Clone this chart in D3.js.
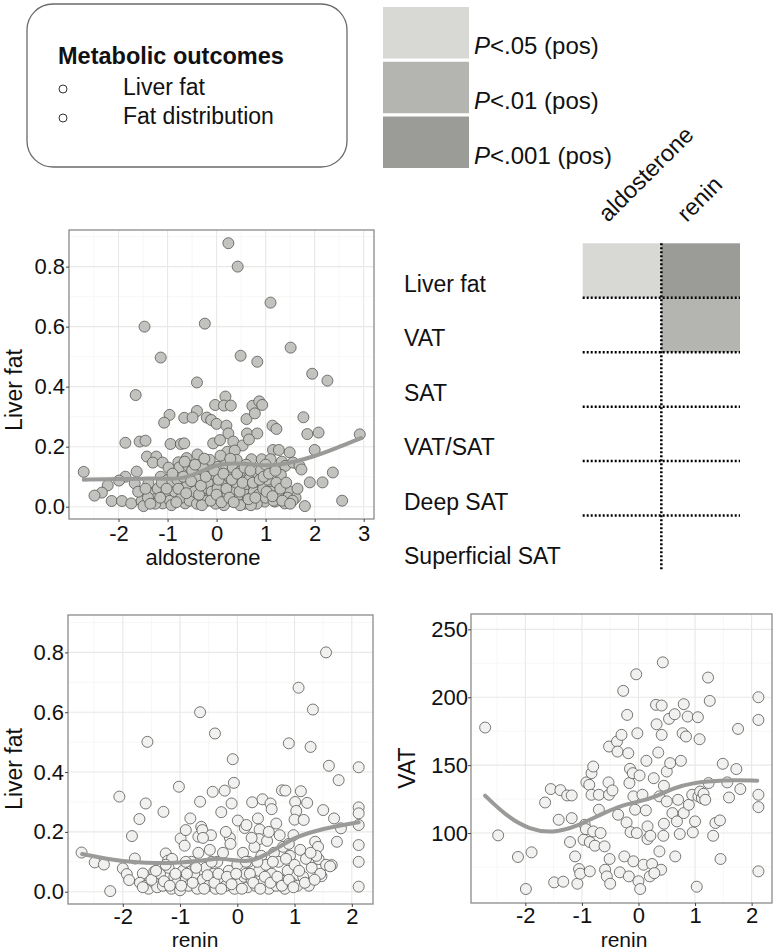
<!DOCTYPE html>
<html>
<head>
<meta charset="utf-8">
<script src="https://cdn.jsdelivr.net/npm/d3@7"></script>
<style>
  body { margin: 0; background: #fff; }
  svg { display: block; font-family: "Liberation Sans", Arial, sans-serif; }
  text { fill: #111; }
</style>
</head>
<body>
<svg width="776" height="952"></svg>
<script>
// ---- data ----
const outcomeRows = ["Liver fat", "VAT", "SAT", "VAT/SAT", "Deep SAT", "Superficial SAT"];
const hormoneCols = ["aldosterone", "renin"];
// 0 = ns, 1 = P<.05, 2 = P<.01, 3 = P<.001 (all positive)
const heatLevels = [
  [1, 3],
  [0, 2],
  [0, 0],
  [0, 0],
  [0, 0],
  [0, 0]
];
const pLabels = [".05 (pos)", ".01 (pos)", ".001 (pos)"];
const pColors = ["#d8d8d5", "#b4b4b0", "#9b9b98"];
const legendItems = ["Liver fat", "Fat distribution"];

// aldosterone vs liver fat
const aldoLiverPts = [
  [0.24,0.878],[0.43,0.80],[1.10,0.68],[-1.47,0.60],[-0.24,0.61],[1.51,0.53],[-1.14,0.497],[0.49,0.503],
  [0.83,0.483],[1.95,0.443],[2.26,0.42],[-0.40,0.414],[-1.65,0.372],[0.18,0.367],[-0.03,0.339],[0.15,0.337],
  [0.29,0.337],[0.73,0.336],[0.87,0.351],[0.93,0.339],[-0.40,0.319],[-0.96,0.306],[-0.66,0.296],[-0.49,0.297],
  [-1.07,0.28],[-0.20,0.297],[-0.11,0.289],[0.0,0.276],[0.61,0.292],[0.78,0.311],[0.20,0.27],[0.24,0.244],
  [1.14,0.27],[1.22,0.259],[1.77,0.298],[0.62,0.244],[0.83,0.244],[1.85,0.242],[2.08,0.247],[-1.86,0.213],
  [-1.57,0.217],[-1.45,0.22],[-0.94,0.209],[-0.73,0.209],[-0.66,0.211],[-0.07,0.211],[0.07,0.222],[0.34,0.217],
  [0.53,0.204],[0.66,0.224],[0.22,0.183],[0.37,0.187],[1.15,0.189],[1.27,0.189],[1.49,0.181],[2.0,0.189],
  [-1.42,0.167],[-1.23,0.167],[-1.30,0.147],[-1.10,0.147],[-0.39,0.174],[-0.61,0.162],[-0.78,0.148],[-0.76,0.131],
  [-0.58,0.136],[-0.35,0.131],[-0.14,0.156],[0.03,0.133],[0.41,0.156],[0.71,0.158],[0.92,0.158],[1.10,0.158],
  [1.33,0.15],[1.40,0.136],[1.56,0.147],[1.69,0.136],[1.73,0.124],[-2.71,0.116],[-1.63,0.117],[-1.14,0.10],
  [-1.0,0.089],[-1.86,0.10],[-1.99,0.087],[-2.22,0.071],[-2.34,0.047],[-2.49,0.037],[-2.14,0.019],[-1.93,0.019],
  [-1.74,0.011],[-1.67,0.078],[-1.53,0.019],[-1.49,0.002],[-1.32,0.042],[-1.22,0.028],[-1.39,0.078],[-1.10,0.011],
  [-0.95,0.078],[-0.88,0.028],[-0.69,0.067],[-0.64,0.011],[-0.54,0.10],[-0.47,0.033],[-0.34,0.10],[-0.24,0.061],
  [-0.15,0.028],[-0.03,0.078],[0.07,0.03],[0.17,0.017],[0.27,0.067],[0.39,0.10],[0.44,0.067],[0.49,0.022],
  [0.61,0.094],[0.64,0.067],[0.73,0.017],[0.80,0.106],[0.92,0.078],[0.98,0.017],[1.08,0.067],[1.19,0.017],
  [1.31,0.106],[1.36,0.039],[1.39,0.011],[1.49,0.05],[1.61,0.03],[1.80,0.002],[1.90,0.081],[2.16,0.081],
  [2.37,0.114],[2.56,0.02],[2.92,0.241],
  [-1.2,0.06],[-1.05,0.04],[-0.95,0.02],[-0.85,0.05],[-0.8,0.09],[-0.72,0.03],[-0.6,0.07],[-0.55,0.02],
  [-0.5,0.12],[-0.45,0.05],[-0.4,0.01],[-0.38,0.09],[-0.3,0.03],[-0.28,0.13],[-0.2,0.02],[-0.18,0.08],
  [-0.1,0.05],[-0.08,0.11],[-0.02,0.01],[0.02,0.06],[0.05,0.12],[0.1,0.03],[0.12,0.09],[0.18,0.14],
  [0.22,0.04],[0.25,0.1],[0.3,0.02],[0.33,0.13],[0.36,0.05],[0.4,0.08],[0.46,0.03],[0.5,0.12],
  [0.55,0.06],[0.58,0.01],[0.62,0.04],[0.66,0.09],[0.7,0.03],[0.76,0.05],[0.82,0.01],[0.86,0.04],
  [0.9,0.12],[0.95,0.06],[1.0,0.03],[1.04,0.09],[1.12,0.05],[1.16,0.02],[1.22,0.08],[1.26,0.04],
  [1.45,0.03],[1.55,0.02],[-1.4,0.03],[-1.25,0.01],[-0.98,0.13],[-0.65,0.15],[-0.25,0.16],[0.08,0.17],
  [0.28,0.16],[0.6,0.14],[1.0,0.14],[-0.92,0.005],[-0.3,0.005],[0.15,0.005],[0.48,0.005],[0.7,0.005],
  [-1.6,0.05],[-1.45,0.06],[-1.35,0.01],[-1.15,0.03],[-1.12,0.08],[-1.02,0.06],[-0.9,0.11],[-0.82,0.015],
  [-0.78,0.06],[-0.68,0.1],[-0.62,0.045],[-0.52,0.085],[-0.44,0.14],[-0.36,0.04],[-0.32,0.07],[-0.22,0.1],
  [-0.12,0.02],[-0.05,0.12],[0.0,0.04],[0.04,0.09],[0.1,0.015],[0.14,0.11],[0.2,0.06],[0.26,0.03],
  [0.31,0.09],[0.35,0.015],[0.42,0.11],[0.47,0.05],[0.53,0.08],[0.57,0.13],[0.65,0.025],[0.69,0.12],
  [0.74,0.08],[0.79,0.03],[0.88,0.09],[0.96,0.1],[1.02,0.05],[1.07,0.11],[1.14,0.035],[1.2,0.12],
  [1.3,0.06],[1.34,0.02],[1.42,0.08],[1.5,0.01],[1.65,0.06]
];
const aldoLiverFit = [[-2.71,0.090],[-2,0.092],[-1.5,0.094],[-1,0.093],[-0.75,0.092],[-0.4,0.11],[0,0.142],
  [0.4,0.146],[0.8,0.138],[1.2,0.137],[1.6,0.150],[2.0,0.168],[2.4,0.192],[2.95,0.229]];

// renin vs liver fat
const reninLiverPts = [
  [-2.72,0.131],[-2.49,0.098],[-2.33,0.091],[-2.22,0.002],[-2.06,0.318],[-2.0,0.078],[-1.93,0.059],[-1.84,0.186],
  [-1.79,0.111],[-1.89,0.039],[-1.71,0.243],[-1.65,0.061],[-1.60,0.295],[-1.57,0.501],[-1.45,0.067],[-1.29,0.267],
  [-1.25,0.128],[-1.21,0.104],[-1.14,0.11],[-1.02,0.351],[-0.99,0.178],[-0.92,0.154],[-0.90,0.206],[-0.82,0.245],
  [-0.68,0.184],[-0.65,0.6],[-0.65,0.301],[-0.63,0.217],[-0.61,0.206],[-0.46,0.189],[-0.43,0.334],[-0.39,0.529],
  [-0.28,0.266],[-0.22,0.338],[-0.13,0.18],[-0.10,0.295],[-0.08,0.443],[-0.06,0.364],[0.01,0.238],[0.13,0.213],
  [0.16,0.223],[0.26,0.299],[0.36,0.245],[0.44,0.309],[0.39,0.208],[0.38,0.176],[0.58,0.295],[0.60,0.276],
  [0.68,0.228],[0.74,0.189],[0.78,0.339],[0.84,0.338],[0.90,0.496],[0.98,0.189],[1.01,0.30],[1.03,0.27],
  [1.0,0.241],[1.07,0.682],[1.11,0.336],[1.16,0.24],[1.22,0.297],[1.28,0.484],[1.32,0.609],[1.36,0.167],
  [1.41,0.15],[1.42,0.109],[1.50,0.273],[1.47,0.052],[1.55,0.80],[1.60,0.421],[1.65,0.089],[1.69,0.245],
  [1.74,0.167],[1.77,0.373],[1.81,0.212],[2.12,0.416],[2.12,0.282],[2.12,0.262],[2.12,0.223],[2.12,0.156],
  [2.12,0.10],[2.12,0.017],
  [-1.7,0.03],[-1.6,0.02],[-1.55,0.01],[-1.45,0.03],[-1.4,0.015],[-1.35,0.06],[-1.3,0.02],[-1.2,0.08],
  [-1.15,0.01],[-1.1,0.05],[-1.05,0.03],[-1.0,0.005],[-0.95,0.07],[-0.9,0.04],[-0.85,0.02],[-0.8,0.1],
  [-0.75,0.06],[-0.7,0.01],[-0.68,0.13],[-0.6,0.04],[-0.55,0.08],[-0.5,0.02],[-0.48,0.14],[-0.42,0.06],
  [-0.38,0.01],[-0.35,0.1],[-0.3,0.035],[-0.25,0.13],[-0.2,0.02],[-0.15,0.07],[-0.12,0.16],[-0.08,0.04],
  [-0.05,0.01],[0.0,0.09],[0.05,0.03],[0.1,0.13],[0.12,0.05],[0.18,0.015],[0.2,0.1],[0.25,0.04],
  [0.3,0.15],[0.32,0.02],[0.38,0.07],[0.42,0.12],[0.45,0.03],[0.5,0.09],[0.52,0.17],[0.55,0.01],
  [0.6,0.06],[0.64,0.13],[0.68,0.02],[0.72,0.1],[0.75,0.04],[0.8,0.15],[0.83,0.01],[0.88,0.07],
  [0.92,0.12],[0.95,0.03],[1.0,0.09],[1.05,0.02],[1.1,0.14],[1.15,0.05],[1.2,0.11],[1.25,0.02],
  [1.3,0.08],[1.38,0.12],[1.45,0.06],[1.55,0.09],[1.62,0.085],[-0.6,0.18],[-0.2,0.2],[0.25,0.18],
  [0.55,0.2],[0.9,0.16],[-0.9,0.1],[-1.25,0.09],[0.15,0.06],[-0.45,0.1],
  [-1.65,0.015],[-1.5,0.04],[-1.42,0.07],[-1.28,0.035],[-1.18,0.02],[-1.08,0.06],[-0.98,0.02],[-0.88,0.06],
  [-0.78,0.03],[-0.72,0.08],[-0.58,0.01],[-0.52,0.055],[-0.4,0.03],[-0.33,0.06],[-0.28,0.01],[-0.18,0.05],
  [-0.1,0.025],[-0.02,0.06],[0.08,0.01],[0.15,0.1],[0.22,0.06],[0.28,0.03],[0.35,0.1],[0.4,0.01],
  [0.48,0.05],[0.58,0.03],[0.62,0.1],[0.7,0.05],[0.78,0.02],[0.85,0.11],[0.9,0.04],[0.98,0.015],
  [1.08,0.07],[1.18,0.03],[1.28,0.13],[1.35,0.04]
];
const reninLiverFit = [[-2.71,0.126],[-2.2,0.107],[-1.8,0.098],[-1.4,0.095],[-1.0,0.097],[-0.6,0.104],
  [-0.3,0.113],[0,0.103],[0.25,0.101],[0.5,0.124],[0.75,0.152],[1.0,0.180],[1.25,0.197],[1.5,0.210],
  [1.8,0.222],[2.12,0.232]];

// renin vs VAT
const reninVatPts = [
  [-2.71,177.7],[-2.48,98.3],[-2.13,82.4],[-1.99,58.8],[-1.89,85.8],[-1.65,122.5],[-1.55,132.4],[-1.49,63.7],
  [-1.41,109.8],[-1.38,131.6],[-1.33,64.2],[-1.26,127.7],[-1.18,111.0],[-1.18,127.7],[-1.21,93.4],[-1.12,82.8],
  [-1.08,62.7],[-1.05,73.5],[-1.03,70.1],[-0.97,95.1],[-0.95,106.1],[-0.93,102.9],[-0.92,137.3],[-0.87,135.5],
  [-0.86,93.4],[-0.86,71.8],[-0.83,144.1],[-0.80,149.0],[-0.83,128.2],[-0.80,101.2],[-0.77,90.7],[-0.70,117.2],
  [-0.70,128.2],[-0.67,100],[-0.60,90.2],[-0.59,73.0],[-0.56,68.1],[-0.53,137.3],[-0.52,128.2],[-0.52,163.7],
  [-0.51,80.9],[-0.50,62.7],[-0.46,131.4],[-0.38,167.4],[-0.37,160.0],[-0.36,113.5],[-0.33,71.1],[-0.30,172.3],
  [-0.27,204.7],[-0.25,82.8],[-0.21,107.8],[-0.20,187.0],[-0.18,158.8],[-0.17,68.1],[-0.16,136.8],[-0.15,147.3],
  [-0.14,100.7],[-0.10,144.1],[-0.09,127.0],[-0.09,79.2],[-0.06,117.2],[-0.04,216.9],[-0.03,100],[-0.02,173.5],
  [0,64.5],[0.02,142.4],[0.03,58.8],[0.07,128.2],[0.09,76.7],[0.13,116.7],[0.14,153.2],[0.16,104.9],
  [0.16,95.6],[0.20,68.1],[0.21,98.0],[0.24,77.2],[0.27,140.4],[0.31,194.4],[0.32,180.1],[0.35,159.3],
  [0.37,127.0],[0.37,86.5],[0.40,73.0],[0.41,193.9],[0.41,172.3],[0.43,225.7],[0.44,98.0],[0.45,134.8],
  [0.45,106.9],[0.50,145.3],[0.50,123.3],[0.54,184.1],[0.56,151.5],[0.60,114.7],[0.64,187.5],[0.65,82.8],
  [0.68,108.6],[0.70,124.5],[0.73,99.3],[0.75,153.2],[0.78,173.5],[0.80,194.9],[0.80,114.7],[0.84,171.1],
  [0.87,185.8],[0.89,120.8],[0.95,128.2],[0.96,100.5],[1.0,108.6],[1.05,185.3],[1.06,127.0],[1.08,169.1],
  [1.09,130.6],[1.12,125.7],[1.15,128.9],[1.18,124.5],[1.23,214.5],[1.26,197.3],[1.24,136.8],[1.32,98.0],
  [1.36,107.4],[1.44,109.3],[1.45,80.9],[1.49,151.0],[1.57,137.3],[1.60,126.2],[1.73,147.1],[1.76,176.7],
  [1.80,132.4],[2.12,200],[2.12,183.3],[2.12,128.2],[2.12,119.1],[2.12,71.8],[1.03,60.5],[0.28,70.5]
];
const reninVatFit = [[-2.71,127.5],[-2.33,112.3],[-1.92,102.5],[-1.51,100],[-1.09,104.9],[-0.62,114.7],
  [-0.27,120.8],[0.03,123.3],[0.32,127.0],[0.62,133.1],[0.92,136.8],[1.51,139.2],[2.10,138.5]];

// ---- drawing ----
const svg = d3.select("svg");
const FONT = 23;
const TICK_FONT = 22;

function scatterPanel(o) {
  const x = d3.scaleLinear().domain(o.xDom).range([o.x0, o.x1]);
  const y = d3.scaleLinear().domain(o.yDom).range([o.y1, o.y0]);
  const g = svg.append("g");

  g.append("rect").attr("x", o.x0).attr("y", o.y0)
    .attr("width", o.x1 - o.x0).attr("height", o.y1 - o.y0).attr("fill", "#fff");

  // minor then major grid (theme_bw look)
  g.selectAll(".gxm").data(o.xMinor).join("line")
    .attr("x1", d => x(d)).attr("x2", d => x(d)).attr("y1", o.y0).attr("y2", o.y1)
    .attr("stroke", "#f3f3f1").attr("stroke-width", 0.7);
  g.selectAll(".gym").data(o.yMinor).join("line")
    .attr("y1", d => y(d)).attr("y2", d => y(d)).attr("x1", o.x0).attr("x2", o.x1)
    .attr("stroke", "#f3f3f1").attr("stroke-width", 0.7);
  g.selectAll(".gx").data(o.xTicks).join("line")
    .attr("x1", d => x(d)).attr("x2", d => x(d)).attr("y1", o.y0).attr("y2", o.y1)
    .attr("stroke", "#e8e8e6").attr("stroke-width", 1.1);
  g.selectAll(".gy").data(o.yTicks).join("line")
    .attr("y1", d => y(d)).attr("y2", d => y(d)).attr("x1", o.x0).attr("x2", o.x1)
    .attr("stroke", "#e8e8e6").attr("stroke-width", 1.1);

  g.selectAll(".pt").data(o.pts).join("circle")
    .attr("cx", d => x(d[0])).attr("cy", d => y(d[1])).attr("r", 5.5)
    .attr("fill", o.fill).attr("stroke", "#555").attr("stroke-width", 0.8);

  g.append("path").datum(o.fit)
    .attr("d", d3.line().x(d => x(d[0])).y(d => y(d[1])).curve(d3.curveBasis))
    .attr("fill", "none").attr("stroke", "#9a9a98").attr("stroke-width", 4)
    .attr("stroke-linecap", "round");

  g.append("rect").attr("x", o.x0).attr("y", o.y0)
    .attr("width", o.x1 - o.x0).attr("height", o.y1 - o.y0)
    .attr("fill", "none").attr("stroke", "#8a8a88").attr("stroke-width", 1.3);

  const ax = g.append("g").attr("transform", `translate(0,${o.y1})`)
    .call(d3.axisBottom(x).tickValues(o.xTicks).tickSize(3).tickPadding(o.xPad).tickFormat(d => String(d)));
  const ay = g.append("g").attr("transform", `translate(${o.x0},0)`)
    .call(d3.axisLeft(y).tickValues(o.yTicks).tickSize(3).tickPadding(o.yPad).tickFormat(o.yFmt));
  [ax, ay].forEach(a => {
    a.select(".domain").remove();
    a.selectAll(".tick line").attr("stroke", "#444");
    a.selectAll(".tick text").attr("font-size", TICK_FONT)
      .attr("font-family", "Liberation Sans, Arial, sans-serif").attr("fill", "#111");
  });

  // x title sits just under the tick labels, as in the figure
  g.append("text").attr("x", o.xTitle[0]).attr("y", o.xTitle[1])
    .attr("text-anchor", "middle").attr("font-size", o.xTitleSize).text(o.xLabel);
  g.append("text").attr("transform", `translate(${o.yTitle[0]},${o.yTitle[1]}) rotate(-90)`)
    .attr("text-anchor", "middle").attr("font-size", FONT).text(o.yLabel);
}

scatterPanel({
  x0: 69, x1: 374, y0: 230, y1: 519,
  xDom: [-3.01, 3.21], yDom: [-0.041, 0.922],
  xTicks: [-2, -1, 0, 1, 2, 3], xMinor: [-2.5, -1.5, -0.5, 0.5, 1.5, 2.5],
  yTicks: [0, 0.2, 0.4, 0.6, 0.8], yMinor: [0.1, 0.3, 0.5, 0.7, 0.9],
  yFmt: d3.format(".1f"), yPad: 1, xPad: 3,
  pts: aldoLiverPts, fit: aldoLiverFit, fill: "#c2c2be",
  xLabel: "aldosterone", yLabel: "Liver fat",
  xTitle: [203, 565], xTitleSize: 22, yTitle: [22, 390]
});

scatterPanel({
  x0: 68, x1: 373, y0: 615, y1: 904,
  xDom: [-2.957, 2.37], yDom: [-0.041, 0.925],
  xTicks: [-2, -1, 0, 1, 2], xMinor: [-2.5, -1.5, -0.5, 0.5, 1.5],
  yTicks: [0, 0.2, 0.4, 0.6, 0.8], yMinor: [0.1, 0.3, 0.5, 0.7, 0.9],
  yFmt: d3.format(".1f"), yPad: 1, xPad: 1,
  pts: reninLiverPts, fit: reninLiverFit, fill: "#f1f1ef",
  xLabel: "renin", yLabel: "Liver fat",
  xTitle: [195, 947], xTitleSize: 21, yTitle: [22, 769]
});

scatterPanel({
  x0: 471, x1: 772, y0: 614, y1: 903,
  xDom: [-2.96, 2.36], yDom: [48.5, 261.3],
  xTicks: [-2, -1, 0, 1, 2], xMinor: [-2.5, -1.5, -0.5, 0.5, 1.5],
  yTicks: [100, 150, 200, 250], yMinor: [75, 125, 175, 225],
  yFmt: d3.format("d"), yPad: 0, xPad: 1,
  pts: reninVatPts, fit: reninVatFit, fill: "#f1f1ef",
  xLabel: "renin", yLabel: "VAT",
  xTitle: [624, 947], xTitleSize: 21, yTitle: [415, 768]
});

// ---- heatmap of associations ----
const rowScale = d3.scaleBand().domain(outcomeRows).range([243.3, 570]);
const colScale = d3.scaleBand().domain(hormoneCols).range([582.7, 740]);
const heat = svg.append("g");
const cells = [];
outcomeRows.forEach((r, i) => hormoneCols.forEach((c, j) => cells.push({ r, c, lvl: heatLevels[i][j] })));
heat.selectAll(".cell").data(cells.filter(d => d.lvl > 0)).join("rect")
  .attr("x", d => colScale(d.c)).attr("y", d => rowScale(d.r))
  .attr("width", colScale.bandwidth()).attr("height", rowScale.bandwidth())
  .attr("fill", d => pColors[d.lvl - 1]);

heat.selectAll(".hline").data(outcomeRows.slice(1)).join("line")
  .attr("x1", colScale.range()[0]).attr("x2", colScale.range()[1])
  .attr("y1", d => rowScale(d)).attr("y2", d => rowScale(d))
  .attr("stroke", "#000").attr("stroke-width", 2.5).attr("stroke-dasharray", "2,2");
heat.selectAll(".vline").data(hormoneCols.slice(1)).join("line")
  .attr("x1", d => colScale(d)).attr("x2", d => colScale(d))
  .attr("y1", rowScale.range()[0]).attr("y2", rowScale.range()[1])
  .attr("stroke", "#000").attr("stroke-width", 2.5).attr("stroke-dasharray", "2,2");

heat.selectAll(".rlab").data(outcomeRows).join("text")
  .attr("x", 404).attr("y", d => rowScale(d) + rowScale.bandwidth() - 6)
  .attr("font-size", FONT).attr("fill", "#1a1a1a").text(d => d);

heat.selectAll(".clab").data(hormoneCols).join("text")
  .attr("transform", d => `translate(${colScale(d) + colScale.bandwidth() / 2 - 14},223) rotate(-45)`)
  .attr("font-size", 23.5).text(d => d);

// ---- P-value legend ----
const pScale = d3.scaleBand().domain(pLabels).range([7, 168]).paddingInner(0.06);
const pl = svg.append("g");
pl.selectAll("rect").data(pLabels).join("rect")
  .attr("x", 383).attr("y", d => pScale(d)).attr("width", 86).attr("height", pScale.bandwidth())
  .attr("fill", (d, i) => pColors[i]);
const pt = pl.selectAll("text").data(pLabels).join("text")
  .attr("x", 474).attr("y", d => pScale(d) + pScale.bandwidth() - 4)
  .attr("font-size", 24);
pt.append("tspan").attr("font-style", "italic").text("P");
pt.append("tspan").text(d => "<" + d);

// ---- outcome legend box ----
const lg = svg.append("g");
lg.append("rect").attr("x", 27).attr("y", 4).attr("width", 320).attr("height", 163)
  .attr("rx", 26).attr("fill", "#fff").attr("stroke", "#6a6a6a").attr("stroke-width", 1.3);
lg.append("text").attr("x", 58).attr("y", 64).attr("font-size", 23.5).attr("font-weight", "bold")
  .text("Metabolic outcomes");
lg.selectAll("circle").data(legendItems).join("circle")
  .attr("cx", 63).attr("cy", (d, i) => 89 + i * 29).attr("r", 4)
  .attr("fill", "none").attr("stroke", "#333").attr("stroke-width", 1);
lg.selectAll(".li").data(legendItems).join("text")
  .attr("x", 123).attr("y", (d, i) => 95 + i * 28.5).attr("font-size", FONT).text(d => d);
</script>
</body>
</html>
